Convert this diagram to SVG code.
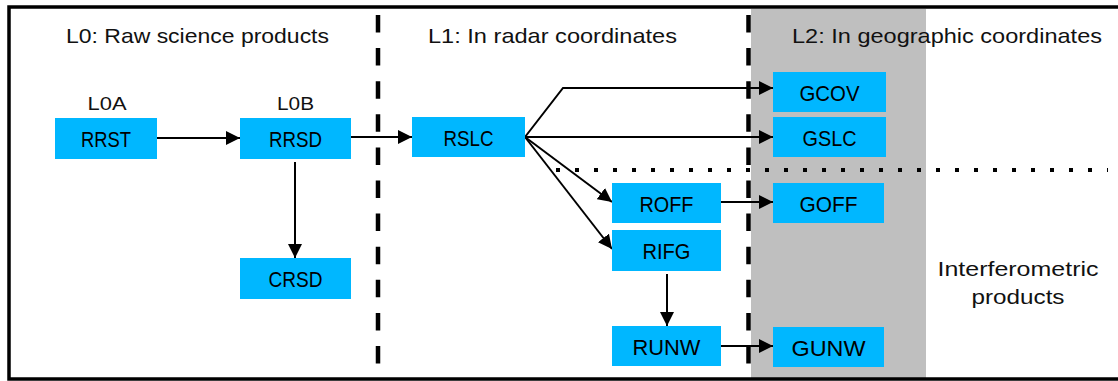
<svg xmlns="http://www.w3.org/2000/svg" width="1118" height="381" viewBox="0 0 1118 381">
  <style>
    .node rect { fill: #00B7FF; }
    .node text { font-family: "Liberation Sans", Arial, sans-serif; font-size: 22px; fill: #000; text-anchor: middle; }
    .title { font-family: "Liberation Sans", Arial, sans-serif; font-size: 21px; fill: #111; }
    .lbl { font-family: "Liberation Sans", Arial, sans-serif; font-size: 19px; fill: #111; text-anchor: middle; }
    .conn path { fill: none; stroke: #000; stroke-width: 2; marker-end: url(#arrow); }
    .sep { stroke: #000; stroke-width: 4.5; stroke-dasharray: 17.5 15.6; fill: none; }
  </style>
  <defs>
    <marker id="arrow" markerUnits="userSpaceOnUse" viewBox="0 0 14 14" refX="14" refY="7" markerWidth="14" markerHeight="14" orient="auto">
      <path d="M0,0 L14,7 L0,14 z" fill="#000"/>
    </marker>
  </defs>
  <rect x="0" y="0" width="1118" height="381" fill="#fff"/>
  <!-- gray L2 band -->
  <rect id="l2-band" x="751" y="9" width="175" height="369" fill="#BFBFBF"/>
  <!-- outer frame -->
  <rect id="frame" x="9" y="7" width="1130" height="372" fill="none" stroke="#000" stroke-width="3.5"/>
  <!-- separators -->
  <g id="separators">
    <line class="sep" x1="378" y1="15" x2="378" y2="364"/>
    <line class="sep" x1="748.5" y1="15" x2="748.5" y2="364"/>
    <line x1="556" y1="170" x2="1108" y2="170" stroke="#000" stroke-width="4" stroke-dasharray="4 15"/>
  </g>
  <!-- titles -->
  <g id="titles">
    <text class="title" x="66" y="43" textLength="263" lengthAdjust="spacingAndGlyphs">L0: Raw science products</text>
    <text class="title" x="428" y="43" textLength="249" lengthAdjust="spacingAndGlyphs">L1: In radar coordinates</text>
    <text class="title" x="792" y="43" textLength="310" lengthAdjust="spacingAndGlyphs">L2: In geographic coordinates</text>
    <text class="lbl" x="107" y="110" textLength="39" lengthAdjust="spacingAndGlyphs">L0A</text>
    <text class="lbl" x="295.5" y="110" textLength="37" lengthAdjust="spacingAndGlyphs">L0B</text>
    <text class="title" x="1018" y="276" text-anchor="middle" textLength="161" lengthAdjust="spacingAndGlyphs">Interferometric</text>
    <text class="title" x="1018" y="304" text-anchor="middle" textLength="93" lengthAdjust="spacingAndGlyphs">products</text>
  </g>
  <!-- connectors -->
  <g id="connectors" class="conn">
    <path d="M157,138 H240"/>
    <path d="M351,137 H412"/>
    <path d="M295,162 V258"/>
    <path d="M525,137 L563,88 H773"/>
    <path d="M525,137 H773"/>
    <path d="M525,137 L612,202"/>
    <path d="M525,137 L612,249"/>
    <path d="M721,202 H773"/>
    <path d="M667,274 V326"/>
    <path d="M721,346 H773"/>
  </g>
  <!-- nodes -->
  <g id="RRST" class="node"><rect x="55" y="118" width="102" height="41"/><text x="106" y="147" textLength="50" lengthAdjust="spacingAndGlyphs">RRST</text></g>
  <g id="RRSD" class="node"><rect x="240" y="118" width="111" height="41"/><text x="295.5" y="147" textLength="53" lengthAdjust="spacingAndGlyphs">RRSD</text></g>
  <g id="CRSD" class="node"><rect x="240" y="258" width="111" height="41"/><text x="295.5" y="287" textLength="54" lengthAdjust="spacingAndGlyphs">CRSD</text></g>
  <g id="RSLC" class="node"><rect x="412" y="117" width="113" height="40"/><text x="468.5" y="146" textLength="50" lengthAdjust="spacingAndGlyphs">RSLC</text></g>
  <g id="GCOV" class="node"><rect x="773" y="72" width="113" height="40"/><text x="829.5" y="101" textLength="60" lengthAdjust="spacingAndGlyphs">GCOV</text></g>
  <g id="GSLC" class="node"><rect x="773" y="117" width="113" height="40"/><text x="829.5" y="146" textLength="54" lengthAdjust="spacingAndGlyphs">GSLC</text></g>
  <g id="ROFF" class="node"><rect x="612" y="183" width="109" height="40"/><text x="666.5" y="212" textLength="54" lengthAdjust="spacingAndGlyphs">ROFF</text></g>
  <g id="RIFG" class="node"><rect x="612" y="230" width="109" height="41"/><text x="666.5" y="259" textLength="48" lengthAdjust="spacingAndGlyphs">RIFG</text></g>
  <g id="RUNW" class="node"><rect x="612" y="326" width="109" height="40"/><text x="666.5" y="355" textLength="68" lengthAdjust="spacingAndGlyphs">RUNW</text></g>
  <g id="GOFF" class="node"><rect x="773" y="183" width="111" height="40"/><text x="828.5" y="212" textLength="58" lengthAdjust="spacingAndGlyphs">GOFF</text></g>
  <g id="GUNW" class="node"><rect x="773" y="327" width="111" height="40"/><text x="828.5" y="356" textLength="74" lengthAdjust="spacingAndGlyphs">GUNW</text></g>
</svg>
